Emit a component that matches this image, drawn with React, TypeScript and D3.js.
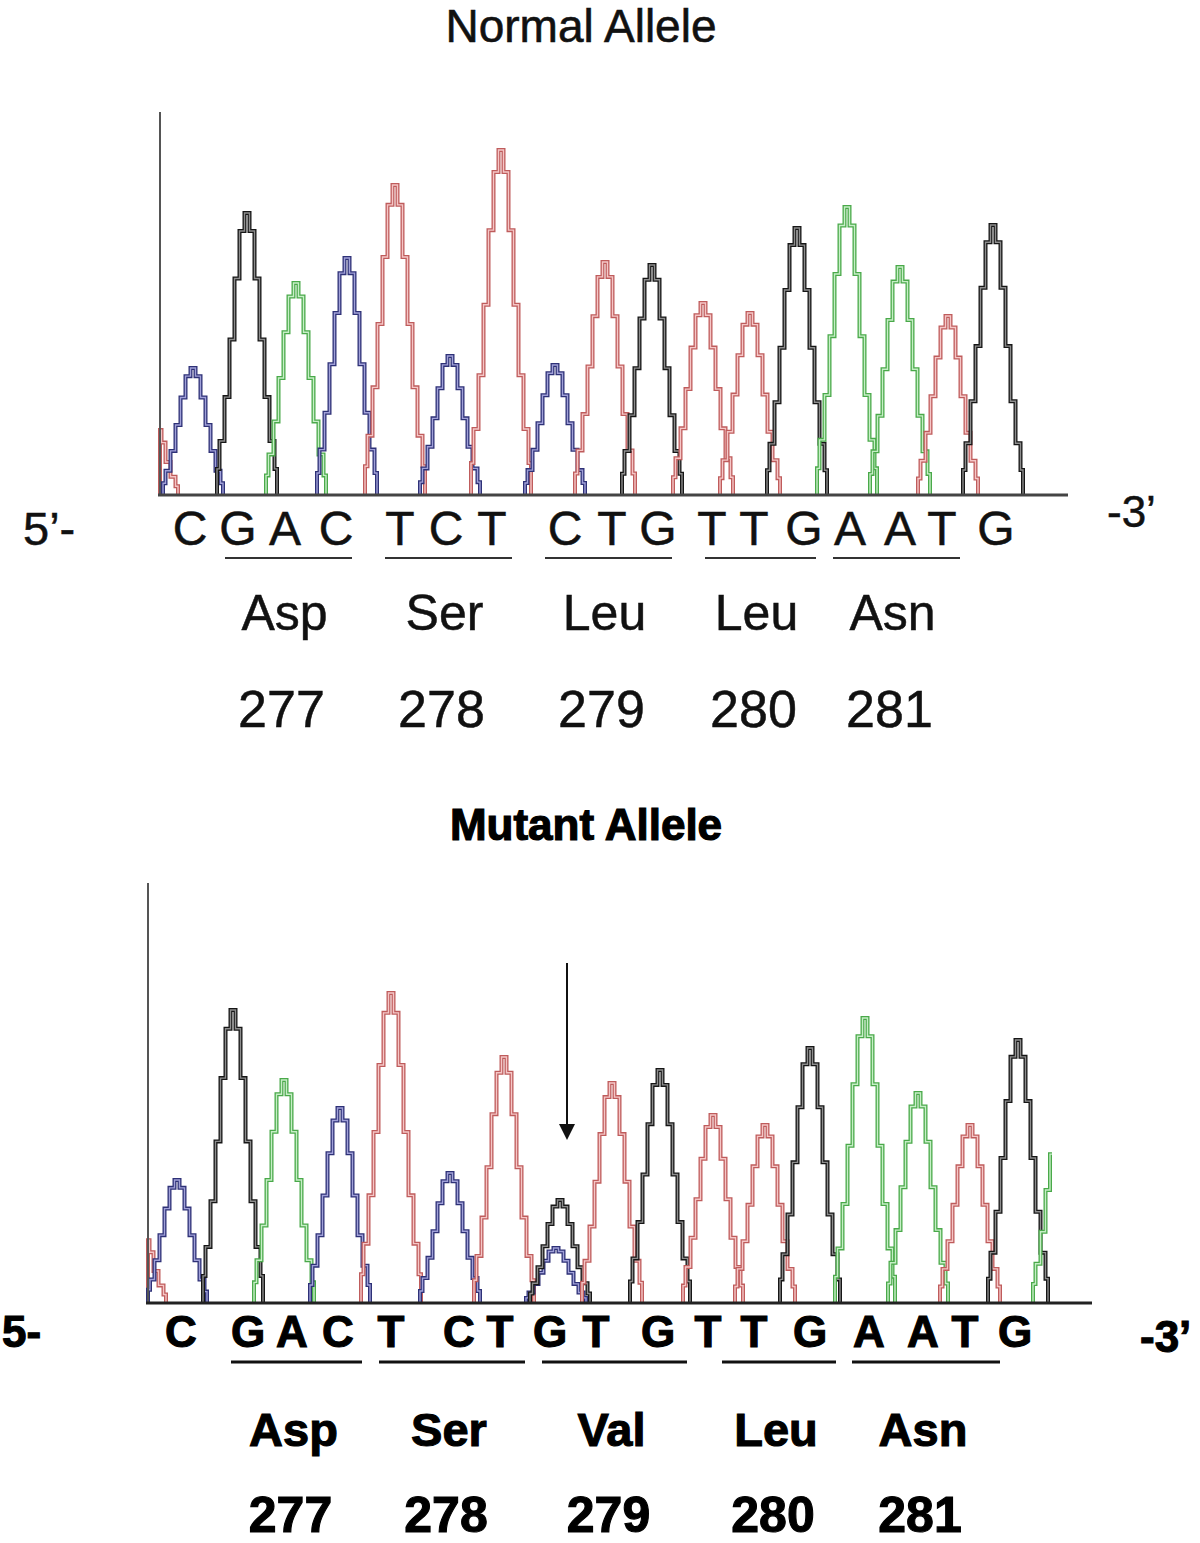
import React from "react";
import * as d3 from "d3";

// ---------- DATA ----------
// Normal allele: peaks (channel, scan position, signal height)
const normalPeakBase = ["T", "C", "G", "A", "C", "T", "C", "T", "C", "T", "G", "T", "T", "G", "A", "A", "T", "G"];
const normalPeakScan = [-2.4, 6.6, 17.4, 27.2, 37.4, 47.0, 58.0, 68.2, 79.0, 89.0, 98.4, 108.6, 118.0, 127.4, 137.4, 148.0, 157.6, 166.6];
const normalPeakHeight = [95, 127, 282, 212, 237, 310, 139, 345, 130, 233, 230, 192, 182, 267, 288, 228, 179, 270];

// Mutant allele
const mutantPeakBase = ["T", "C", "G", "A", "C", "T", "C", "T", "C", "G", "T", "G", "T", "T", "G", "A", "A", "T", "G", "A"];
const mutantPeakScan = [-2.4, 5.8, 17.0, 27.2, 38.4, 48.6, 60.4, 71.2, 81.6, 82.4, 92.8, 102.4, 113.0, 123.4, 132.4, 143.4, 154.0, 164.4, 174.0, 183.0];
const mutantPeakHeight = [92, 123, 293, 223, 195, 310, 130, 246, 55, 103, 220, 233, 188, 178, 255, 285, 210, 178, 263, 205];

// Base calls (letters) and their scan positions
const normalCalls = ["C", "G", "A", "C", "T", "C", "T", "C", "T", "G", "T", "T", "G", "A", "A", "T", "G"];
const normalCallScan = [6, 15.6, 25, 35.2, 48, 57.2, 66.4, 81, 90.4, 99.6, 110.4, 118.8, 128.8, 138, 148, 156.4, 167.2];
const mutantCalls = ["C", "G", "A", "C", "T", "C", "T", "G", "T", "G", "T", "T", "G", "A", "A", "T", "G"];
const mutantCallScan = [6.6, 20, 28.8, 38, 48.6, 62.2, 70.4, 80.4, 89.6, 102, 112, 121.2, 132.4, 144.2, 155, 163.4, 173.4];

// Codons
const normalAminoAcids = ["Asp", "Ser", "Leu", "Leu", "Asn"];
const mutantAminoAcids = ["Asp", "Ser", "Val", "Leu", "Asn"];
const codonNumbers = ["277", "278", "279", "280", "281"];
const normalCodonStart = [13, 45, 77, 109, 134.6];
const normalCodonEnd = [38.4, 70.4, 102.4, 131.2, 160];
const mutantCodonStart = [16.6, 46.2, 78.8, 114.8, 140.8];
const mutantCodonEnd = [42.8, 75.4, 107.8, 137.6, 170.4];

// Mutation arrow (scan, signal top, signal tip)
const arrowScan = 83.8;
const arrowTopSignal = 340;
const arrowTipSignal = 163;

const channelColor: Record<string, [string, string]> = {
  A: ["#4aa94a", "#c6eec6"],
  C: ["#2e3177", "#a0a0d8"],
  G: ["#161616", "#8c8c8c"],
  T: ["#bf5c5c", "#f5c6c6"],
};

const SIGMA = 2.75;
const HALF = 6;

type Panel = {
  bases: string[];
  scans: number[];
  heights: number[];
  x: d3.ScaleLinear<number, number>;
  y: d3.ScaleLinear<number, number>;
  lo: number;
  hi: number;
};

function peakPoints(c: number, h: number, lo: number, hi: number): [number, number][] {
  const pts: [number, number][] = [];
  const f = (s: number) => h * Math.exp(-((s - c) * (s - c)) / (2 * SIGMA * SIGMA));
  const start = c - HALF;
  if (start >= lo) pts.push([start, 0]);
  else pts.push([lo, 0], [lo, f(lo)]);
  let clippedRight = false;
  for (let k = -HALF; k <= HALF; k++) {
    const s = c + k;
    if (s < lo) continue;
    if (s > hi) {
      clippedRight = true;
      break;
    }
    pts.push([s, f(s)]);
  }
  if (clippedRight) pts.push([hi, f(hi)]);
  else pts.push([c + HALF, 0]);
  return pts;
}

function Traces({ p }: { p: Panel }) {
  const line = d3
    .line<[number, number]>()
    .x((d) => p.x(d[0]))
    .y((d) => p.y(d[1]))
    .curve(d3.curveStep);
  const paths = p.scans.map((c, i) => ({
    d: line(peakPoints(c, p.heights[i], p.lo, p.hi)) || "",
    col: channelColor[p.bases[i]],
  }));
  return (
    <g fill="none" strokeLinejoin="miter">
      {paths.map((q, i) => (
        <g key={i}>
          <path d={q.d} stroke={q.col[0]} strokeWidth={4} />
          <path d={q.d} stroke={q.col[1]} strokeWidth={1.4} />
        </g>
      ))}
    </g>
  );
}

export default function App() {
  const font = "'Liberation Sans', Arial, Helvetica, sans-serif";

  // Top panel scales
  const xTop = d3.scaleLinear().domain([0, 181.6]).range([160, 1068]);
  const yTop = d3.scaleLinear().domain([0, 383]).range([495, 112]);
  // Bottom panel scales
  const xBot = d3.scaleLinear().domain([0, 188.8]).range([148, 1092]);
  const yBot = d3.scaleLinear().domain([0, 420]).range([1303, 883]);

  const top: Panel = { bases: normalPeakBase, scans: normalPeakScan, heights: normalPeakHeight, x: xTop, y: yTop, lo: 0, hi: 181.6 };
  const bot: Panel = { bases: mutantPeakBase, scans: mutantPeakScan, heights: mutantPeakHeight, x: xBot, y: yBot, lo: 0, hi: 180.8 };

  const ax = xBot(arrowScan);
  const aTop = yBot(arrowTopSignal);
  const aTip = yBot(arrowTipSignal);

  return (
    <svg
      width={1200}
      height={1543}
      viewBox="0 0 1200 1543"
      style={{ position: "absolute", left: 0, top: 0, background: "#fff" }}
      fontFamily={font}
    >
      <rect width={1200} height={1543} fill="#fff" />

      {/* ---------- Normal allele ---------- */}
      <text x={581} y={42} fontSize={46} textAnchor="middle" fill="#111" stroke="#111" strokeWidth={0.6}>
        Normal Allele
      </text>
      <Traces p={top} />
      <line x1={xTop(0)} x2={xTop(0)} y1={yTop(383)} y2={yTop(0)} stroke="#555" strokeWidth={2} />
      <line x1={xTop(0) - 2} x2={xTop(181.6)} y1={yTop(0)} y2={yTop(0)} stroke="#444" strokeWidth={3} />

      <g fill="#111" stroke="#111" strokeWidth={0.5}>
        <text x={23} y={545} fontSize={47}>5’-</text>
        <text x={1107} y={527} fontSize={44}>-3’</text>
        {normalCalls.map((b, i) => (
          <text key={i} x={xTop(normalCallScan[i])} y={545} fontSize={48} textAnchor="middle">
            {b}
          </text>
        ))}
        {normalAminoAcids.map((aa, i) => {
          const x1 = xTop(normalCodonStart[i]);
          const x2 = xTop(normalCodonEnd[i]);
          const cx = (x1 + x2) / 2;
          return (
            <g key={i}>
              <line x1={x1} x2={x2} y1={558} y2={558} stroke="#333" strokeWidth={2} />
              <text x={cx - 4} y={630} fontSize={50} textAnchor="middle">{aa}</text>
              <text x={cx - 7} y={727} fontSize={52} textAnchor="middle">{codonNumbers[i]}</text>
            </g>
          );
        })}
      </g>

      {/* ---------- Mutant allele ---------- */}
      <text x={586} y={840} fontSize={44} fontWeight="bold" textAnchor="middle" fill="#000" stroke="#000" strokeWidth={1.2}>
        Mutant Allele
      </text>
      <Traces p={bot} />
      <line x1={xBot(0)} x2={xBot(0)} y1={yBot(420)} y2={yBot(0)} stroke="#555" strokeWidth={2} />
      <line x1={xBot(0) - 2} x2={xBot(188.8)} y1={yBot(0)} y2={yBot(0)} stroke="#222" strokeWidth={3} />

      <line x1={ax} x2={ax} y1={aTop} y2={aTip - 14} stroke="#111" strokeWidth={2} />
      <path d={`M${ax - 8},${aTip - 16} L${ax + 8},${aTip - 16} L${ax},${aTip} Z`} fill="#111" />

      <g fill="#000" stroke="#000" strokeWidth={1.1} fontWeight="bold">
        <text x={2} y={1347} fontSize={44}>5-</text>
        <text x={1140} y={1352} fontSize={44}>-3’</text>
        {mutantCalls.map((b, i) => (
          <text key={i} x={xBot(mutantCallScan[i])} y={1347} fontSize={44} textAnchor="middle">
            {b}
          </text>
        ))}
        {mutantAminoAcids.map((aa, i) => {
          const x1 = xBot(mutantCodonStart[i]);
          const x2 = xBot(mutantCodonEnd[i]);
          const cx = (x1 + x2) / 2;
          return (
            <g key={i}>
              <line x1={x1} x2={x2} y1={1362} y2={1362} stroke="#111" strokeWidth={3} />
              <text x={cx - 3} y={1446} fontSize={47} textAnchor="middle">{aa}</text>
              <text x={cx - 6} y={1532} fontSize={50} textAnchor="middle">{codonNumbers[i]}</text>
            </g>
          );
        })}
      </g>
    </svg>
  );
}
